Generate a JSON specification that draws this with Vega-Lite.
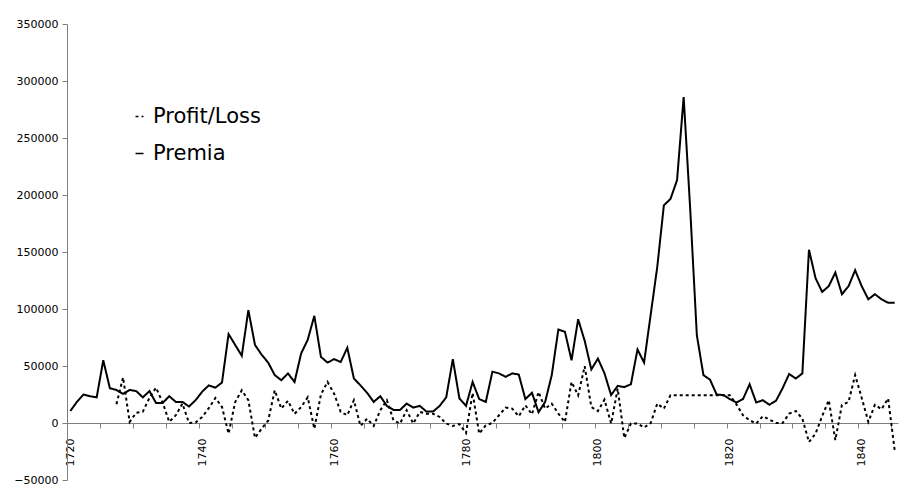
{
  "$schema": "https://vega.github.io/schema/vega-lite/v6.json",
  "width": 831,
  "height": 456,
  "autosize": "none",
  "padding": {"left": 67, "top": 24, "right": 10, "bottom": 6},
  "background": "white",
  "config": {
    "view": {"stroke": null},
    "font": "DejaVu Sans",
    "axis": {"grid": false, "domainColor": "#808080", "tickColor": "#808080", "labelColor": "#000000", "labelFont": "DejaVu Sans", "labelFontSize": 11, "title": null}
  },
  "datasets": {
    "premia": [
      {"year":1720,"value":10500},{"year":1721,"value":18500},{"year":1722,"value":25000},{"year":1723,"value":23500},{"year":1724,"value":22500},
      {"year":1725,"value":55000},{"year":1726,"value":30500},{"year":1727,"value":29000},{"year":1728,"value":25500},{"year":1729,"value":29000},
      {"year":1730,"value":28000},{"year":1731,"value":22500},{"year":1732,"value":28000},{"year":1733,"value":17500},{"year":1734,"value":17500},
      {"year":1735,"value":23500},{"year":1736,"value":18500},{"year":1737,"value":18500},{"year":1738,"value":14500},{"year":1739,"value":20000},
      {"year":1740,"value":27500},{"year":1741,"value":33000},{"year":1742,"value":31000},{"year":1743,"value":35500},{"year":1744,"value":78000},
      {"year":1745,"value":68500},{"year":1746,"value":59000},{"year":1747,"value":99000},{"year":1748,"value":68500},{"year":1749,"value":60000},
      {"year":1750,"value":53000},{"year":1751,"value":42000},{"year":1752,"value":37500},{"year":1753,"value":43500},{"year":1754,"value":36000},
      {"year":1755,"value":61000},{"year":1756,"value":73000},{"year":1757,"value":94000},{"year":1758,"value":58000},{"year":1759,"value":53000},
      {"year":1760,"value":56000},{"year":1761,"value":53500},{"year":1762,"value":66000},{"year":1763,"value":39000},{"year":1764,"value":33000},
      {"year":1765,"value":26500},{"year":1766,"value":18500},{"year":1767,"value":23500},{"year":1768,"value":15000},{"year":1769,"value":11500},
      {"year":1770,"value":11500},{"year":1771,"value":17000},{"year":1772,"value":13500},{"year":1773,"value":15000},{"year":1774,"value":10000},
      {"year":1775,"value":10000},{"year":1776,"value":15000},{"year":1777,"value":22500},{"year":1778,"value":56000},{"year":1779,"value":21500},
      {"year":1780,"value":15000},{"year":1781,"value":36000},{"year":1782,"value":21000},{"year":1783,"value":18500},{"year":1784,"value":45000},
      {"year":1785,"value":43500},{"year":1786,"value":40500},{"year":1787,"value":43500},{"year":1788,"value":42500},{"year":1789,"value":21000},
      {"year":1790,"value":26500},{"year":1791,"value":9500},{"year":1792,"value":18500},{"year":1793,"value":42000},{"year":1794,"value":82000},
      {"year":1795,"value":80000},{"year":1796,"value":55000},{"year":1797,"value":91000},{"year":1798,"value":72000},{"year":1799,"value":47000},
      {"year":1800,"value":56500},{"year":1801,"value":43500},{"year":1802,"value":24500},{"year":1803,"value":32500},{"year":1804,"value":31500},
      {"year":1805,"value":34000},{"year":1806,"value":64500},{"year":1807,"value":53000},{"year":1808,"value":95000},{"year":1809,"value":137000},
      {"year":1810,"value":191000},{"year":1811,"value":196500},{"year":1812,"value":213000},{"year":1813,"value":286000},{"year":1814,"value":187000},
      {"year":1815,"value":77000},{"year":1816,"value":42000},{"year":1817,"value":38000},{"year":1818,"value":25000},{"year":1819,"value":24500},
      {"year":1820,"value":21000},{"year":1821,"value":18000},{"year":1822,"value":21000},{"year":1823,"value":34000},{"year":1824,"value":18000},
      {"year":1825,"value":20000},{"year":1826,"value":16000},{"year":1827,"value":19500},{"year":1828,"value":30500},{"year":1829,"value":43000},
      {"year":1830,"value":39000},{"year":1831,"value":43500},{"year":1832,"value":152000},{"year":1833,"value":127000},{"year":1834,"value":115000},
      {"year":1835,"value":120000},{"year":1836,"value":132000},{"year":1837,"value":113000},{"year":1838,"value":120000},{"year":1839,"value":134000},
      {"year":1840,"value":120000},{"year":1841,"value":108500},{"year":1842,"value":113000},{"year":1843,"value":108500},{"year":1844,"value":105500},
      {"year":1845,"value":105500}
    ],
    "profit": [
      {"year":1727,"value":16500},{"year":1728,"value":40000},{"year":1729,"value":1000},{"year":1730,"value":9000},{"year":1731,"value":10000},
      {"year":1732,"value":22000},{"year":1733,"value":31000},{"year":1734,"value":18000},{"year":1735,"value":1000},{"year":1736,"value":6800},
      {"year":1737,"value":17000},{"year":1738,"value":0},{"year":1739,"value":500},{"year":1740,"value":5300},{"year":1741,"value":13000},
      {"year":1742,"value":22000},{"year":1743,"value":14000},{"year":1744,"value":-9300},{"year":1745,"value":18400},{"year":1746,"value":28700},
      {"year":1747,"value":20000},{"year":1748,"value":-13000},{"year":1749,"value":-5000},{"year":1750,"value":2000},{"year":1751,"value":28700},
      {"year":1752,"value":12600},{"year":1753,"value":19500},{"year":1754,"value":8000},{"year":1755,"value":14000},{"year":1756,"value":22500},
      {"year":1757,"value":-5000},{"year":1758,"value":25000},{"year":1759,"value":36000},{"year":1760,"value":25800},{"year":1761,"value":9700},
      {"year":1762,"value":6800},{"year":1763,"value":20000},{"year":1764,"value":-2600},{"year":1765,"value":3800},{"year":1766,"value":-2600},
      {"year":1767,"value":11200},{"year":1768,"value":20000},{"year":1769,"value":2400},{"year":1770,"value":-500},{"year":1771,"value":11200},
      {"year":1772,"value":-500},{"year":1773,"value":9700},{"year":1774,"value":8200},{"year":1775,"value":8200},{"year":1776,"value":5300},
      {"year":1777,"value":-500},{"year":1778,"value":-2600},{"year":1779,"value":-1000},{"year":1780,"value":-8800},{"year":1781,"value":26300},
      {"year":1782,"value":-9300},{"year":1783,"value":-2000},{"year":1784,"value":0},{"year":1785,"value":6800},{"year":1786,"value":13500},
      {"year":1787,"value":12600},{"year":1788,"value":5900},{"year":1789,"value":15500},{"year":1790,"value":7600},{"year":1791,"value":27200},
      {"year":1792,"value":12600},{"year":1793,"value":17000},{"year":1794,"value":8200},{"year":1795,"value":900},{"year":1796,"value":36000},
      {"year":1797,"value":24300},{"year":1798,"value":49800},{"year":1799,"value":14000},{"year":1800,"value":10500},{"year":1801,"value":20500},
      {"year":1802,"value":-500},{"year":1803,"value":30200},{"year":1804,"value":-13200},{"year":1805,"value":-500},{"year":1806,"value":-500},
      {"year":1807,"value":-4000},{"year":1808,"value":0},{"year":1809,"value":17000},{"year":1810,"value":12600},{"year":1811,"value":24300},
      {"year":1812,"value":24300},{"year":1813,"value":24300},{"year":1814,"value":24300},{"year":1815,"value":24300},{"year":1816,"value":24300},
      {"year":1817,"value":24300},{"year":1818,"value":24300},{"year":1819,"value":24300},{"year":1820,"value":24300},{"year":1821,"value":16400},
      {"year":1822,"value":6800},{"year":1823,"value":2400},{"year":1824,"value":-500},{"year":1825,"value":5900},{"year":1826,"value":3000},
      {"year":1827,"value":0},{"year":1828,"value":0},{"year":1829,"value":8200},{"year":1830,"value":10500},{"year":1831,"value":3800},
      {"year":1832,"value":-16700},{"year":1833,"value":-9300},{"year":1834,"value":6000},{"year":1835,"value":20000},{"year":1836,"value":-15000},
      {"year":1837,"value":16000},{"year":1838,"value":18400},{"year":1839,"value":42000},{"year":1840,"value":22000},{"year":1841,"value":1000},
      {"year":1842,"value":16000},{"year":1843,"value":12000},{"year":1844,"value":21500},{"year":1845,"value":-24000}
    ]
  },
  "encoding": {
    "y": {
      "field": "value", "type": "quantitative",
      "scale": {"domain": [-50000, 350000], "nice": false, "zero": false},
      "axis": {"values": [-50000, 0, 50000, 100000, 150000, 200000, 250000, 300000, 350000], "format": "d", "tickSize": 5, "labelPadding": 4}
    },
    "strokeDash": {
      "field": "series", "type": "nominal",
      "scale": {"domain": ["Profit/Loss", "Premia"], "range": [[3, 3], [1, 0]]},
      "legend": {
        "orient": "none", "legendX": 62, "legendY": 82, "title": null, "padding": 0,
        "symbolType": "stroke", "symbolSize": 64, "symbolStrokeWidth": 1.5, "symbolStrokeColor": "black",
        "labelFont": "DejaVu Sans", "labelFontSize": 21, "labelColor": "black", "labelOffset": 3, "rowPadding": 15
      }
    }
  },
  "layer": [
    {
      "data": {"name": "premia"},
      "transform": [{"calculate": "'Premia'", "as": "series"}],
      "mark": {"type": "line", "color": "black", "strokeWidth": 2},
      "encoding": {
        "x": {
          "field": "year", "type": "quantitative",
          "scale": {"domain": [1719.5, 1845.5], "nice": false, "zero": false},
          "axis": {"orient": "bottom", "offset": -57, "labels": false, "tickSize": 5,
            "values": [1724.5, 1729.5, 1734.5, 1739.5, 1744.5, 1749.5, 1754.5, 1759.5, 1764.5, 1769.5, 1774.5, 1779.5, 1784.5, 1789.5, 1794.5, 1799.5, 1804.5, 1809.5, 1814.5, 1819.5, 1824.5, 1829.5, 1834.5, 1839.5, 1844.5]}
        }
      }
    },
    {
      "data": {"name": "profit"},
      "transform": [{"calculate": "'Profit/Loss'", "as": "series"}],
      "mark": {"type": "line", "color": "black", "strokeWidth": 2},
      "encoding": {
        "x": {
          "field": "year", "type": "quantitative",
          "axis": {"orient": "bottom", "offset": -57, "ticks": false, "tickSize": 0, "domain": false, "labelAngle": -90, "labelPadding": 15, "format": "d",
            "values": [1720, 1740, 1760, 1780, 1800, 1820, 1840]}
        }
      }
    }
  ],
  "resolve": {"axis": {"x": "independent"}}
}
